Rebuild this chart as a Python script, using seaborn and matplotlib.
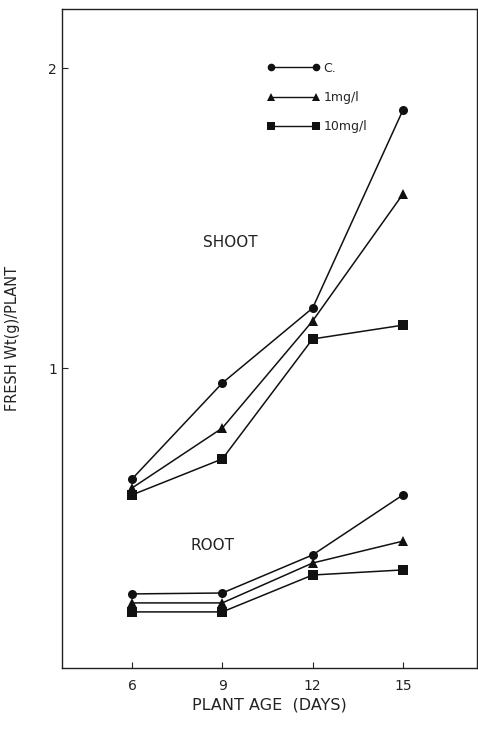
import matplotlib
matplotlib.use("Agg")
import matplotlib.pyplot as plt
from matplotlib.lines import Line2D
import seaborn as sns
import pandas as pd

sns.set_theme(style="ticks")
plt.rcParams['font.family'] = ['DejaVu Sans']

days = [6, 9, 12, 15]
treatments = ["C.", "1mg/l", "10mg/l"]
shoot_c = [0.63, 0.95, 1.20, 1.86]
shoot_1 = [0.60, 0.80, 1.157, 1.58]
shoot_10 = [0.577, 0.697, 1.097, 1.143]
root_c = [0.247, 0.25, 0.377, 0.577]
root_1 = [0.217, 0.217, 0.35, 0.423]
root_10 = [0.187, 0.187, 0.31, 0.327]

rows = []
for organ, series in [("shoot", [shoot_c, shoot_1, shoot_10]),
                      ("root", [root_c, root_1, root_10])]:
    for t, vals in zip(treatments, series):
        for d, v in zip(days, vals):
            rows.append({"day": d, "wt": v, "treatment": t, "organ": organ})
df = pd.DataFrame(rows)

markers = {"C.": "o", "1mg/l": "^", "10mg/l": "s"}

fig = plt.figure(figsize=(4.78, 7.43), dpi=100)
ax = fig.add_axes([62/478, 75/743, 415/478, 659/743])

sns.lineplot(data=df, x="day", y="wt", style="treatment", units="organ",
             estimator=None, markers=markers, dashes=False, color="#111111",
             linewidth=1.1, markersize=6.5, markeredgewidth=0, legend=False, ax=ax,
             sort=True)

ax.set_xlim(3.675, 17.46)
ax.set_ylim(0, 2.197)
ax.set_xticks(days)
ax.set_xticklabels(["6", "9", "12", "15"])
ax.set_yticks([1, 2])
ax.set_yticklabels(["1", "2"])
ax.tick_params(direction="in", length=4, width=0.8, labelsize=10, colors="#222222")
ax.tick_params(axis="x", pad=8)
for s in ax.spines.values():
    s.set_linewidth(1.0)
    s.set_color("#222222")

ax.set_xlabel("PLANT AGE  (DAYS)", fontsize=11.5, labelpad=3, color="#222222")
ax.set_ylabel("FRESH Wt(g)/PLANT", fontsize=10.5, labelpad=20, color="#222222")

ax.text(9.25, 1.417, "SHOOT", fontsize=11, ha="center", va="center", color="#222222")
ax.text(8.69, 0.41, "ROOT", fontsize=11, ha="center", va="center", color="#222222")

handles = [Line2D([0], [0], color="#111111", marker=markers[t], markersize=5.5,
                  markeredgewidth=0, linewidth=1.0) for t in treatments]
leg = ax.legend(handles, treatments, loc="upper left", bbox_to_anchor=(0.467, 0.937),
                frameon=False, numpoints=2, handlelength=4.2, fontsize=9,
                labelspacing=1.3, handletextpad=0.3)

fig.savefig("out.png", dpi=100)
